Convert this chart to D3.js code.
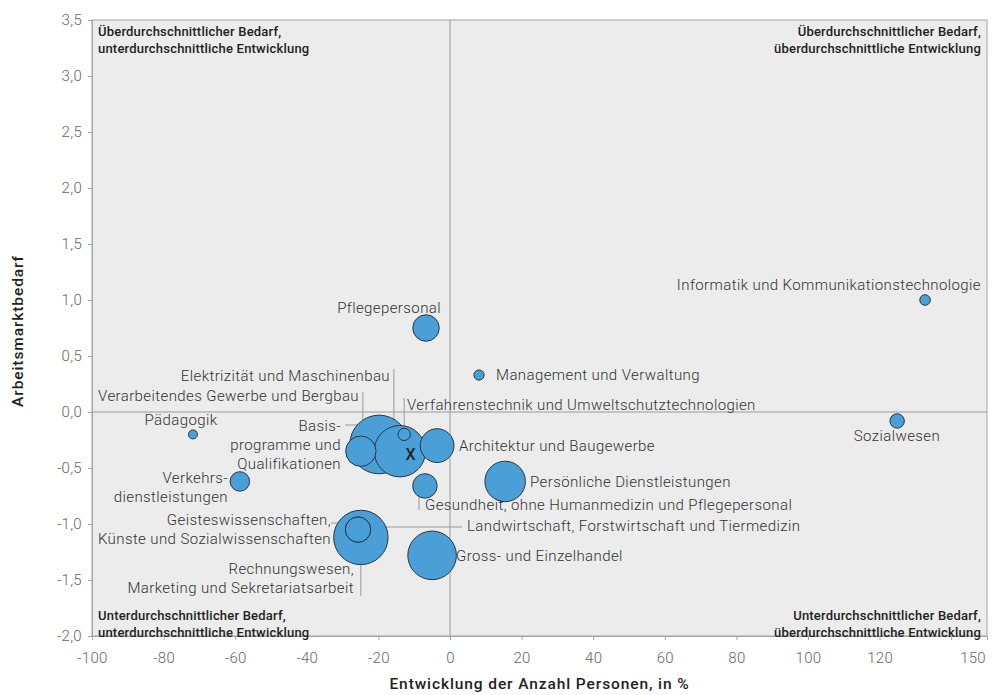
<!DOCTYPE html>
<html><head><meta charset="utf-8">
<script src="https://cdn.jsdelivr.net/npm/d3@7/dist/d3.min.js"></script>
<style>
body{margin:0;background:#fff;}
svg{display:block;font-family:Roboto,"Noto Sans",sans-serif;}
</style></head>
<body><svg id="chart" width="998" height="695"></svg>
<script>
// ---- data ----
const names = [
  "Informatik und Kommunikationstechnologie","Sozialwesen","Management und Verwaltung",
  "Pflegepersonal","Pädagogik","Verkehrsdienstleistungen","Architektur und Baugewerbe",
  "Persönliche Dienstleistungen","Gesundheit, ohne Humanmedizin und Pflegepersonal",
  "Gross- und Einzelhandel","Rechnungswesen, Marketing und Sekretariatsarbeit",
  "Geisteswissenschaften, Künste und Sozialwissenschaften","Landwirtschaft, Forstwirtschaft und Tiermedizin",
  "Verarbeitendes Gewerbe und Bergbau","Basisprogramme und Qualifikationen",
  "Elektrizität und Maschinenbau","Verfahrenstechnik und Umweltschutztechnologien"
];
const growth = [132.7,124.9,8.1,-6.7,-71.8,-58.7,-3.6,15.4,-7.0,-5.0,-24.9,-25.7,-25.7,-24.9,-19.8,-14.0,-12.8];
const demand = [1.0,-0.08,0.33,0.75,-0.2,-0.62,-0.3,-0.62,-0.66,-1.28,-1.12,-1.05,-1.05,-0.35,-0.29,-0.35,-0.2];
const persons = [28,52,26,175,20,95,285,410,150,590,740,160,160,230,860,660,38];
const xTicks = [-100,-80,-60,-40,-20,0,20,40,60,80,100,120,140];
const xTickLabels = ["-100","-80","-60","-40","-20","0","20","40","60","80","100","120",""];
const yTicks = [-2.0,-1.5,-1.0,-0.5,0.0,0.5,1.0,1.5,2.0,2.5,3.0,3.5];
const quadrantTexts = [
  ["Überdurchschnittlicher Bedarf,","unterdurchschnittliche Entwicklung"],
  ["Überdurchschnittlicher Bedarf,","überdurchschnittliche Entwicklung"],
  ["Unterdurchschnittlicher Bedarf,","unterdurchschnittliche Entwicklung"],
  ["Unterdurchschnittlicher Bedarf,","überdurchschnittliche Entwicklung"]
];
const totalMark = {x:-11.0, y:-0.38, label:"X"};

// ---- chart ----
const svg = d3.select("#chart");
const L=92, R=987, T=20, B=636;
const x = d3.scaleLinear().domain([-100,150]).range([L,R]);
const y = d3.scaleLinear().domain([-2,3.5]).range([B,T]);
const r = d3.scaleSqrt().domain([0,900]).range([0,30]);

svg.append("rect").attr("x",L).attr("y",T).attr("width",R-L).attr("height",B-T)
  .attr("fill","#ebeceb").attr("stroke","#a4a4a4").attr("stroke-width",1);

// quadrant lines
svg.append("line").attr("x1",x(0)).attr("x2",x(0)).attr("y1",T).attr("y2",B).attr("stroke","#9a9a9a");
svg.append("line").attr("x1",L).attr("x2",R).attr("y1",y(0)).attr("y2",y(0)).attr("stroke","#9a9a9a");

// axes
const xAxis = d3.axisBottom(x).tickValues(xTicks).tickSize(4).tickFormat((d,i)=>xTickLabels[i]);
const gx = svg.append("g").attr("transform",`translate(0,${B})`).call(xAxis);
gx.append("text").attr("class","extra").attr("x",R-1).attr("text-anchor","end").text("150");
const fmt = d=>d3.format(".1f")(d).replace(".",",").replace("−","-");
const yAxis = d3.axisLeft(y).tickValues(yTicks).tickSize(4).tickFormat(fmt);
const gy = svg.append("g").attr("transform",`translate(${L},0)`).call(yAxis);
[gx,gy].forEach(g=>{
  g.select(".domain").attr("stroke","#a4a4a4");
  g.selectAll(".tick line").attr("stroke","#a4a4a4");
  g.selectAll("text").attr("fill","#666").attr("font-size",15).attr("font-weight",300)
    .attr("font-family","Roboto").attr("letter-spacing","0.3px");
});
gx.selectAll("text").attr("y",16).attr("dy","0.71em");
gy.selectAll(".tick text").attr("x",-10);

svg.append("text").attr("x",(L+R)/2).attr("y",689).attr("text-anchor","middle")
  .attr("font-size",15.5).attr("font-weight",500).attr("letter-spacing","0.9px").attr("fill","#222")
  .text("Entwicklung der Anzahl Personen, in %");
svg.append("text").attr("transform",`translate(23,${(T+B)/2+3}) rotate(-90)`).attr("text-anchor","middle")
  .attr("font-size",15.5).attr("font-weight",500).attr("letter-spacing","0.9px").attr("fill","#222")
  .text("Arbeitsmarktbedarf");

// quadrant labels
const qpos = [[L+6,36],[R-6,36],[L+6,620],[R-6,620]];
quadrantTexts.forEach((lines,i)=>{
  const [qx,qy] = qpos[i];
  const anchor = (i%2===1)?"end":"start";
  const t = svg.append("text").attr("x",qx).attr("y",qy).attr("text-anchor",anchor)
    .attr("font-size",13).attr("font-weight",500).attr("letter-spacing","0.2px").attr("fill","#222");
  lines.forEach((s,j)=>t.append("tspan").attr("x",qx).attr("dy",j?16.5:0).text(s));
});

// leader lines
const leaders = [
  [x(-14.0)-6,369,x(-14.0)-6,y(-0.35)],
  [x(-24.9)+2,392,x(-24.9)+2,y(-0.35)],
  [345,425,375,425],
  [x(-12.8),398,x(-12.8),y(-0.2)+4],
  [419,487,419,510],
  [331,523,363,523],
  [462,527,355,527],
  [x(-24.9),562,x(-24.9),596]
];
svg.append("g").selectAll("line").data(leaders).join("line")
  .attr("x1",d=>d[0]).attr("y1",d=>d[1]).attr("x2",d=>d[2]).attr("y2",d=>d[3])
  .attr("stroke","#9a9a9a").attr("stroke-width",1);

// bubbles
const data = names.map((n,i)=>({n,gx:growth[i],gy:demand[i],p:persons[i]}))
  .sort((a,b)=>b.p-a.p);
svg.append("g").selectAll("circle").data(data).join("circle")
  .attr("cx",d=>x(d.gx)).attr("cy",d=>y(d.gy)).attr("r",d=>r(d.p))
  .attr("fill","#4b9fd7").attr("stroke","#2a3644").attr("stroke-width",1);

svg.append("text").attr("x",x(totalMark.x)).attr("y",y(totalMark.y)).attr("text-anchor","middle")
  .attr("dy","0.35em").attr("font-size",16).attr("font-weight",500).attr("fill","#222").text(totalMark.label);

// labels
const labels = [
  [981,290,"end",["Informatik und Kommunikationstechnologie"]],
  [897,441,"middle",["Sozialwesen"]],
  [496,380,"start",["Management und Verwaltung"]],
  [441,313,"end",["Pflegepersonal"]],
  [181,425,"middle",["Pädagogik"]],
  [228,483,"end",["Verkehrs-","dienstleistungen"]],
  [341,431,"end",["Basis-","programme und","Qualifikationen"]],
  [390,381,"end",["Elektrizität und Maschinenbau"]],
  [359,401,"end",["Verarbeitendes Gewerbe und Bergbau"]],
  [407,410,"start",["Verfahrenstechnik und Umweltschutztechnologien"]],
  [459,451,"start",["Architektur und Baugewerbe"]],
  [530,487,"start",["Persönliche Dienstleistungen"]],
  [425,510,"start",["Gesundheit, ohne Humanmedizin und Pflegepersonal"]],
  [467,531,"start",["Landwirtschaft, Forstwirtschaft und Tiermedizin"]],
  [331,525,"end",["Geisteswissenschaften,","Künste und Sozialwissenschaften"]],
  [456,561,"start",["Gross- und Einzelhandel"]],
  [354,574,"end",["Rechnungswesen,","Marketing und Sekretariatsarbeit"]]
];
labels.forEach(([lx,ly,anc,lines])=>{
  const t = svg.append("text").attr("x",lx).attr("y",ly).attr("text-anchor",anc)
    .attr("font-size",15).attr("font-weight",300).attr("letter-spacing","0.4px").attr("fill","#333");
  lines.forEach((s,j)=>t.append("tspan").attr("x",lx).attr("dy",j?19:0).text(s));
});
</script></body></html>
